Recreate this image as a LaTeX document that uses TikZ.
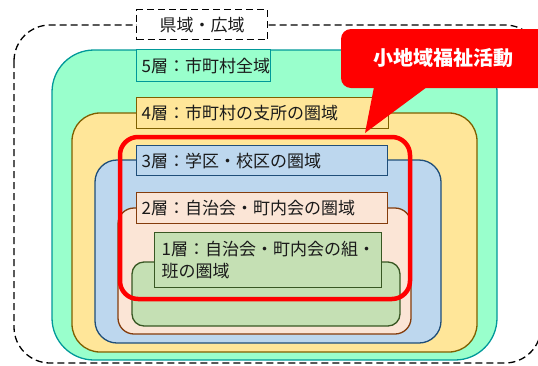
\documentclass[tikz,border=0pt]{standalone}
\usepackage{fontspec}
\setmainfont{Noto Sans CJK JP}
\definecolor{f5}{HTML}{99FFCC}\definecolor{d5}{HTML}{009999}
\definecolor{f4}{HTML}{FFE699}\definecolor{d4}{HTML}{7F6000}
\definecolor{f3}{HTML}{BDD7EE}\definecolor{d3}{HTML}{1F4E79}
\definecolor{f2}{HTML}{FBE5D6}\definecolor{d2}{HTML}{843C0C}
\definecolor{f1}{HTML}{C5E0B4}\definecolor{d1}{HTML}{385723}
\definecolor{txt}{HTML}{1A1A1A}
\begin{document}
\begin{tikzpicture}[x=1pt,y=-1pt,
  zone/.style={line width=1.3pt},
  lab/.style={draw, line width=1.3pt, anchor=north west, inner xsep=5pt, inner ysep=0pt,
    align=left, text=txt, font=\fontsize{17}{22}\selectfont},
  dashline/.style={line width=1.3pt, dash pattern=on 7pt off 4pt}]
\useasboundingbox (0,0) rectangle (538,365);
% outer dashed region
\draw[dashline, rounded corners=36pt] (14,25) rectangle (541,363);
\node[dashline, draw, fill=white, anchor=north west, minimum width=131pt, minimum height=30pt,
  inner sep=0pt, text=txt, font=\fontsize{17}{20}\selectfont] (l6) at (136,9) {県域・広域};
% layer 5
\draw[zone, draw=d5, fill=f5, rounded corners=42pt] (52,50) rectangle (497,360);
\node[lab, draw=d5, fill=f5, text width=124pt, minimum height=32pt] (l5) at (136,49) {5層：市町村全域};
% layer 4
\draw[zone, draw=d4, fill=f4, rounded corners=28pt] (72,113) rectangle (477,352);
\node[lab, draw=d4, fill=f4, text width=242pt, minimum height=31pt] (l4) at (136,97) {4層：市町村の支所の圏域};
% layer 3
\draw[zone, draw=d3, fill=f3, rounded corners=22pt] (95,160) rectangle (441,343);
\node[lab, draw=d3, fill=f3, text width=241pt, minimum height=30pt] (l3) at (136,145) {3層：学区・校区の圏域};
% layer 2
\draw[zone, draw=d2, fill=f2, rounded corners=16pt] (118,208) rectangle (411,334);
\node[lab, draw=d2, fill=f2, text width=241pt, minimum height=31pt] (l2) at (136,192) {2層：自治会・町内会の圏域};
% layer 1
\draw[zone, draw=d1, fill=f1, rounded corners=12pt] (132,262) rectangle (400,326);
\node[lab, draw=d1, fill=f1, inner xsep=7pt, text width=213pt, minimum height=55pt] (l1) at (154,232) {1層：自治会・町内会の組・\\班の圏域};
% red highlight
\draw[red, line width=4.5pt, rounded corners=18pt] (120,137) rectangle (410,299);
% callout
\coordinate (tip) at (365,133);
\fill[red, rounded corners=10pt] (341,29) rectangle (548,88);
\fill[red] (374,87) -- (tip) -- (427,87) -- cycle;
\node[text=white, font=\fontsize{20}{24}\selectfont\bfseries] (co) at (443,58) {小地域福祉活動};
\end{tikzpicture}
\end{document}
